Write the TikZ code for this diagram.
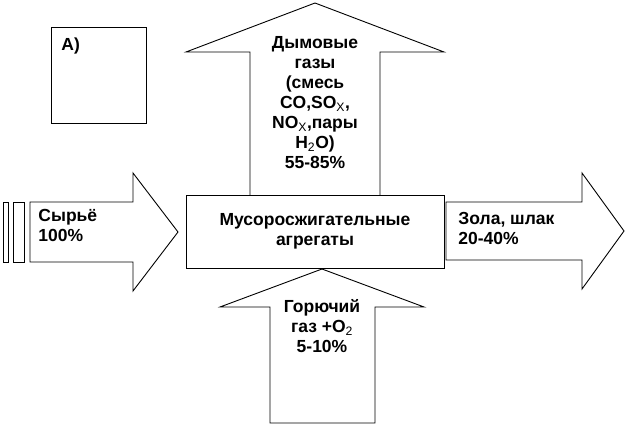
\documentclass[tikz,border=0pt]{standalone}
\usepackage{fontspec}
\setmainfont{Liberation Sans}
\usetikzlibrary{calc}
\newcommand{\lowix}[1]{\textsubscript{\mdseries #1}}

\begin{document}
\begin{tikzpicture}[x=1pt,y=-1pt,line width=0.9pt,line join=miter,
    every node/.style={font=\bfseries\fontsize{17.5}{20}\selectfont,inner sep=0pt}]
    \useasboundingbox (0,0) rectangle (632,427);

    \coordinate (A) at (186,195);
    \coordinate (B) at (444,268);
    \coordinate (C) at (315,3);
    \coordinate (D) at (322,269);
    \coordinate (E) at (178,232);
    \coordinate (F) at (624,231);

    \draw (51,27) rectangle (146,123);

    % flows in and out
    \draw (250,195) -- (250,52) -- (186,52) -- (C) -- (444,52) -- (380,52) -- (380,195);
    \draw (270,423) -- (270,307) -- (220,307) -- (D) -- (424,307) -- (375,307) -- (375,423) -- cycle;
    \draw (30,202) -- (133,202) -- (133,173) -- (E) -- (133,291) -- (133,262) -- (30,262) -- cycle;
    \draw (3,202) rectangle (8,262);
    \draw (13,202) rectangle (24,262);
    \draw (446,202) -- (582,202) -- (582,173) -- (F) -- (582,289) -- (582,260) -- (446,260) -- cycle;
    \draw (A) rectangle (B);

    \node[anchor=north west] (tag) at (61,37) {A)};
    \node[align=center] (smoke) at (315,103) {Дымовые\\газы\\(смесь\\CO,SO\lowix{X},\\NO\lowix{X},пары\\H\lowix{2}O)\\55-85\%};
    \node[align=center] (plant) at ($(A)!0.5!(B)$) {Мусоросжигательные\\агрегаты};
    \node[align=left,anchor=west] (feed) at (38,225) {Сырьё\\100\%};
    \node[align=left,anchor=west] (ash) at (458,228) {Зола, шлак\\20-40\%};
    \node[align=center] (fuel) at (322,326) {Горючий\\газ +O\lowix{2}\\5-10\%};
\end{tikzpicture}
\end{document}
